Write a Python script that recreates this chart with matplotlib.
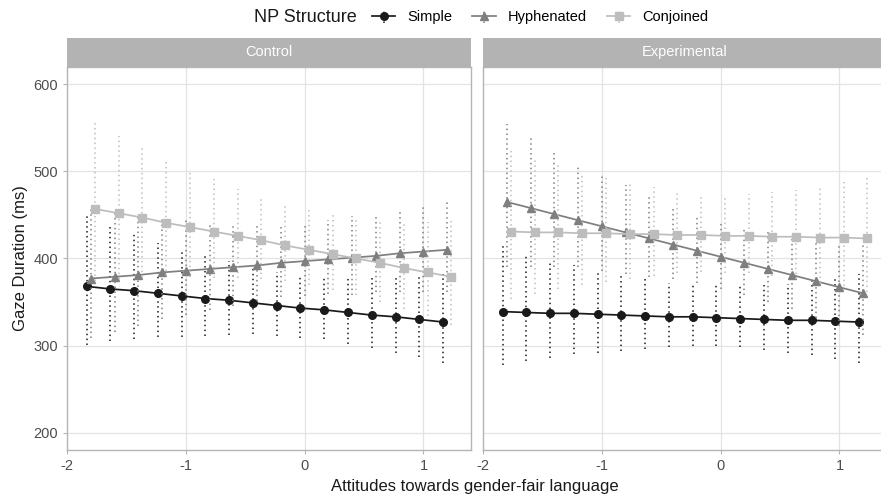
import matplotlib.pyplot as plt
import numpy as np

plt.rcParams['font.family'] = ['Liberation Sans', 'DejaVu Sans']
plt.rcParams['axes.unicode_minus'] = False

# attitude values (x) where predictions were made
attitude = [-1.8, -1.6, -1.4, -1.2, -1.0, -0.8, -0.6, -0.4, -0.2, 0.0, 0.2, 0.4, 0.6, 0.8, 1.0, 1.2]

# Control panel
ctrl_simple = [368, 365, 363, 360, 357, 354, 352, 349, 346, 343, 341, 338, 335, 333, 330, 327]
ctrl_simple_lo = [301, 305, 308, 310, 310, 311, 312, 313, 311, 309, 307, 302, 297, 292, 287, 280]
ctrl_simple_hi = [449, 437, 428, 418, 411, 403, 397, 389, 384, 381, 380, 378, 378, 379, 380, 382]
ctrl_hyph = [377, 379, 381, 384, 386, 388, 390, 392, 395, 397, 399, 401, 403, 406, 408, 410]
ctrl_hyph_lo = [309, 316, 323, 331, 335, 341, 346, 351, 356, 357, 359, 358, 361, 362, 361, 361]
ctrl_hyph_hi = [460, 454, 449, 446, 444, 442, 440, 437, 439, 441, 444, 449, 450, 455, 461, 466]
ctrl_conj = [457, 452, 447, 441, 436, 431, 426, 421, 415, 410, 405, 400, 395, 389, 384, 379]
ctrl_conj_lo = [374, 377, 379, 380, 379, 378, 378, 377, 374, 369, 364, 358, 350, 342, 334, 324]
ctrl_conj_hi = [558, 541, 527, 512, 501, 491, 480, 470, 461, 456, 451, 448, 445, 443, 442, 443]

# Experimental panel
exp_simple = [339, 338, 337, 337, 336, 335, 334, 333, 333, 332, 331, 330, 329, 329, 328, 327]
exp_simple_lo = [278, 282, 286, 290, 292, 294, 296, 298, 300, 299, 298, 295, 292, 289, 285, 280]
exp_simple_hi = [414, 405, 397, 392, 386, 382, 376, 372, 370, 369, 368, 369, 371, 375, 377, 382]
exp_hyph = [465, 458, 451, 444, 437, 430, 423, 416, 409, 402, 395, 388, 381, 374, 367, 360]
exp_hyph_lo = [390, 390, 390, 390, 386, 382, 379, 376, 372, 365, 358, 350, 342, 332, 323, 312]
exp_hyph_hi = [555, 538, 521, 505, 495, 484, 472, 460, 450, 443, 436, 430, 425, 421, 417, 415]
exp_conj = [431, 430, 430, 429, 429, 428, 428, 427, 427, 426, 426, 425, 425, 424, 424, 423]
exp_conj_lo = [353, 359, 365, 369, 373, 376, 380, 383, 384, 383, 383, 380, 377, 372, 368, 362]
exp_conj_hi = [526, 515, 507, 498, 493, 487, 482, 477, 474, 473, 474, 476, 479, 483, 488, 494]

labels = ['Simple', 'Hyphenated', 'Conjoined']
colors = ['#1a1a1a', '#7f7f7f', '#bdbdbd']
markers = ['o', '^', 's']
dodge = [-0.035, 0.0, 0.035]

panels = [
    ('Control', [(ctrl_simple, ctrl_simple_lo, ctrl_simple_hi),
                 (ctrl_hyph, ctrl_hyph_lo, ctrl_hyph_hi),
                 (ctrl_conj, ctrl_conj_lo, ctrl_conj_hi)]),
    ('Experimental', [(exp_simple, exp_simple_lo, exp_simple_hi),
                      (exp_hyph, exp_hyph_lo, exp_hyph_hi),
                      (exp_conj, exp_conj_lo, exp_conj_hi)]),
]

fig = plt.figure(figsize=(8.81, 4.96), dpi=100)
W, H = 881, 496
ax_top, ax_bot = 67, 450
panel_w = 404
lefts = [67, 483]
handles = []

for k, (name, series) in enumerate(panels):
    ax = fig.add_axes([lefts[k] / W, 1 - ax_bot / H, panel_w / W, (ax_bot - ax_top) / H])
    x = np.array(attitude)
    for i, (p, lo, hi) in enumerate(series):
        p = np.array(p)
        err = [p - np.array(lo), np.array(hi) - p]
        eb = ax.errorbar(x + dodge[i], p, yerr=err, fmt='-', marker=markers[i],
                         color=colors[i], ecolor=colors[i], lw=1.25, ms=5.5,
                         elinewidth=1.1, capsize=0, label=labels[i], zorder=3 + i)
        eb[2][0].set_linestyle((0, (1, 2.2)))
        if k == 0:
            handles.append(eb)
    ax.set_xlim(-2, 1.4)
    ax.set_ylim(180, 620)
    ax.set_xticks([-2, -1, 0, 1])
    ax.set_yticks([200, 300, 400, 500, 600])
    ax.grid(True, color='#e3e3e3', lw=0.9)
    ax.set_axisbelow(True)
    for s in ax.spines.values():
        s.set_color('#b5b5b5')
        s.set_linewidth(1.0)
    ax.tick_params(colors='#b5b5b5', labelcolor='#4d4d4d', labelsize=10.5, length=3)
    if k == 1:
        ax.set_yticklabels([])
        ax.tick_params(axis='y', length=0)
    else:
        ax.set_ylabel('Gaze Duration (ms)', fontsize=12, color='#1a1a1a')
    # facet strip
    sax = fig.add_axes([lefts[k] / W, 1 - ax_top / H, panel_w / W, 29 / H])
    sax.set_facecolor('#b3b3b3')
    sax.set_xticks([])
    sax.set_yticks([])
    for s in sax.spines.values():
        s.set_visible(False)
    sax.text(0.5, 0.5, name, color='white', fontsize=10.5, ha='center', va='center',
             transform=sax.transAxes)

fig.text(475 / W, 1 - 487 / H, 'Attitudes towards gender-fair language',
         fontsize=12, ha='center', va='center', color='#1a1a1a')
fig.text(305 / W, 1 - 17 / H, 'NP Structure', fontsize=13, ha='center', va='center',
         color='#1a1a1a')
fig.legend(handles=handles, labels=labels, loc='center left',
           bbox_to_anchor=(372 / W, 1 - 17 / H), ncol=3, frameon=False,
           fontsize=10.5, handlelength=1.6, columnspacing=1.4, handletextpad=0.8,
           borderaxespad=0, borderpad=0)

plt.savefig('out.png', dpi=100)
